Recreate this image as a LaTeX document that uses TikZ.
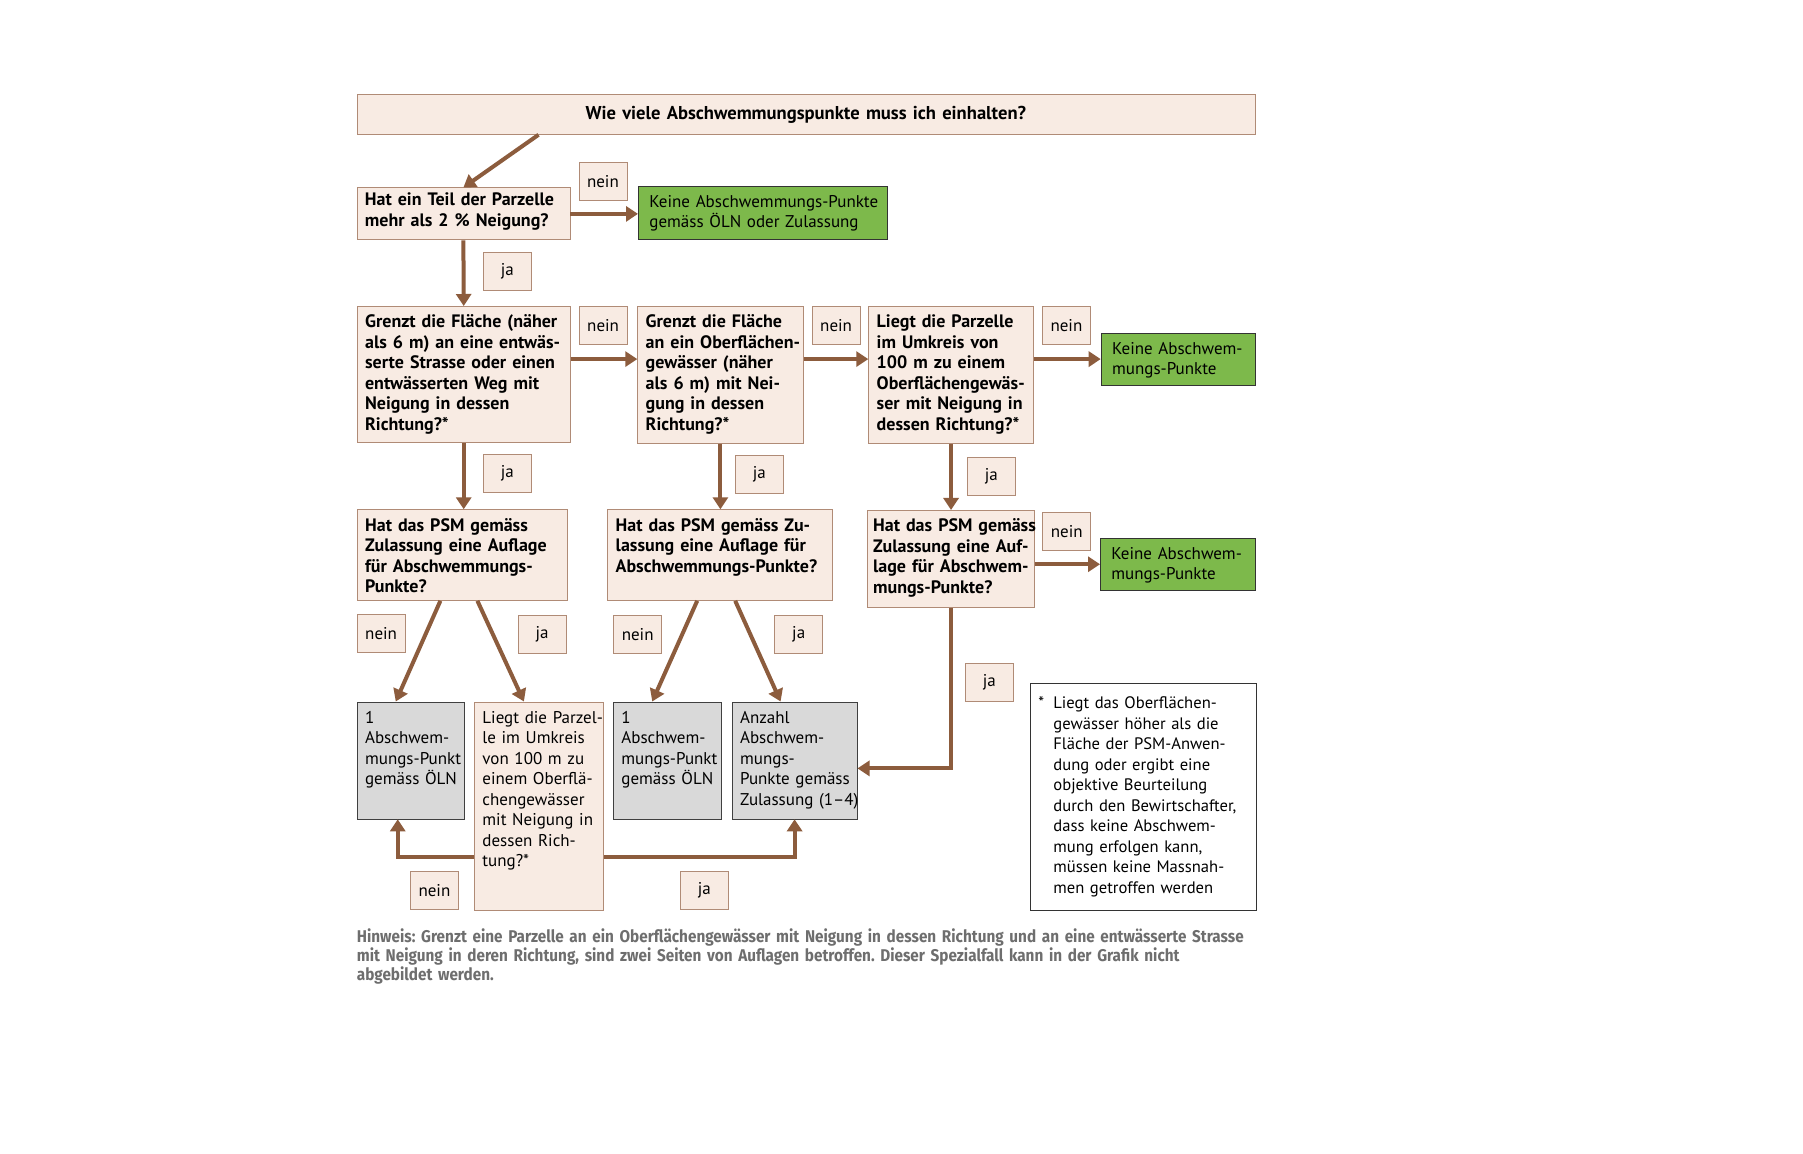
\documentclass[tikz,border=0pt]{standalone}
\usepackage{fontspec}
\setmainfont{PT Sans}
\newfontfamily\hinweisfont[FakeStretch=0.9]{Fira Sans}
\usetikzlibrary{arrows.meta}

\definecolor{boxfill}{HTML}{F8EBE3}
\definecolor{boxline}{HTML}{B08B76}
\definecolor{arrowbrown}{HTML}{8C5C3D}
\definecolor{okgreen}{HTML}{7DB94B}
\definecolor{resultgray}{HTML}{D9D9D9}
\definecolor{notegray}{HTML}{6E6E6E}

% lines that never wrap
\newcommand{\boxlines}[1]{\begin{tabular}[t]{@{}l@{}}#1\end{tabular}}

\tikzset{
  question/.style={draw=boxline, fill=boxfill, anchor=north west, align=left,
    inner xsep=4pt, inner ysep=0pt, text height=10.75pt,
    font=\fontsize{9}{10.25}\selectfont\bfseries},
  answer/.style={question, font=\fontsize{8.5}{10.25}\selectfont\mdseries},
  result/.style={draw=black!75, fill=resultgray, anchor=north west, align=left,
    inner xsep=4pt, inner ysep=0pt, text height=10.75pt, text depth=47.75pt},
  nopoints/.style={draw=black!80, fill=okgreen, anchor=north west, align=left,
    inner xsep=5.5pt, inner ysep=0pt, text height=10.5pt},
  yesno/.style={draw=boxline, fill=boxfill, anchor=north west, inner sep=0pt,
    minimum width=24pt, minimum height=19pt},
  flow/.style={draw=arrowbrown, line width=2pt, -{Triangle[length=6pt,width=7.5pt]}},
}

\begin{document}
\frenchspacing
\fontsize{8.5}{10.25}\selectfont
\begin{tikzpicture}[x=0.5pt, y=-0.5pt]
\fill[white] (0,0) rectangle (1803,1154);
\useasboundingbox (0,0) rectangle (1803,1154);

% start question
\node[draw=boxline, fill=boxfill, anchor=north west, align=center, inner xsep=4pt, inner ysep=0pt,
  text width=441pt, text height=12.8pt, text depth=7.2pt, font=\fontsize{9.3}{10.25}\selectfont\bfseries]
  (start) at (356.5,94) {Wie viele Abschwemmungspunkte muss ich einhalten?};

% first row
\node[question, text width=98.5pt, text height=9pt, text depth=17pt] (b1) at (356.5,187.5)
  {\boxlines{Hat ein Teil der Parzelle\\mehr als 2 \% Neigung?}};
\node[nopoints, text width=113.5pt, text depth=16pt] (g1) at (638,186)
  {\boxlines{Keine Abschwemmungs-Punkte\\gemäss ÖLN oder Zulassung}};

% second row
\node[question, text width=98.6pt, text depth=57.25pt] (b2) at (356.7,306)
  {\boxlines{Grenzt die Fläche (näher\\als 6 m) an eine entwäs-\\serte Strasse oder einen\\entwässerten Weg mit\\Neigung in dessen\\Richtung?*}};
\node[question, text width=74.7pt, text depth=57.75pt] (b3) at (637.3,306)
  {\boxlines{Grenzt die Fläche\\an ein Oberflächen-\\gewässer (näher\\als 6 m) mit Nei-\\gung in dessen\\Richtung?*}};
\node[question, text width=74.35pt, text depth=57.75pt] (b4) at (868.3,306)
  {\boxlines{Liegt die Parzelle\\im Umkreis von\\100 m zu einem\\Oberflächengewäs-\\ser mit Neigung in\\dessen Richtung?*}};
\node[nopoints, text width=66pt, text depth=15.5pt] (g2) at (1100.7,332.7)
  {\boxlines{Keine Abschwem-\\mungs-Punkte}};

% third row
\node[question, text width=97.3pt, text depth=34.6pt] (b5) at (356.7,509.3)
  {\boxlines{Hat das PSM gemäss\\Zulassung eine Auflage\\für Abschwemmungs-\\Punkte?}};
\node[question, text width=104.5pt, text depth=34.6pt] (b6) at (607.3,509.3)
  {\boxlines{Hat das PSM gemäss Zu-\\lassung eine Auflage für\\Abschwemmungs-Punkte?}};
\node[question, inner xsep=3pt, text width=77.65pt, text depth=37.6pt] (b7) at (866.7,510)
  {\boxlines{Hat das PSM gemäss\\Zulassung eine Auf-\\lage für Abschwem-\\mungs-Punkte?}};
\node[nopoints, text width=66.5pt, text depth=15.65pt] (g3) at (1100,537.7)
  {\boxlines{Keine Abschwem-\\mungs-Punkte}};

% results
\node[result, text width=45.65pt] (a1) at (356.7,701.5)
  {\boxlines{1\\Abschwem-\\mungs-Punkt\\gemäss ÖLN}};
\node[answer, text width=56.5pt, text depth=93.5pt] (b8) at (474,701.5)
  {\boxlines{Liegt die Parzel-\\le im Umkreis\\von 100 m zu\\einem Oberflä-\\chengewässer\\mit Neigung in\\dessen Rich-\\tung?*}};
\node[result, text width=45.85pt] (a2) at (613,701.5)
  {\boxlines{1\\Abschwem-\\mungs-Punkt\\gemäss ÖLN}};
\node[result, text width=54.5pt] (a3) at (731.7,701.5)
  {\boxlines{Anzahl\\Abschwem-\\mungs-\\Punkte gemäss\\Zulassung (1–4)}};

% footnote
\node[draw=black!80, fill=white, anchor=north west, align=left, inner xsep=4pt, inner ysep=0pt,
  text width=105pt, text height=12.5pt, text depth=100.85pt, font=\fontsize{8.3}{10.25}\selectfont]
  (fn) at (1030,683.3)
  {\makebox[7.5pt][l]{*}\boxlines{Liegt das Oberflächen-\\gewässer höher als die\\Fläche der PSM-Anwen-\\dung oder ergibt eine\\objektive Beurteilung\\durch den Bewirtschafter,\\dass keine Abschwem-\\mung erfolgen kann,\\müssen keine Massnah-\\men getroffen werden}};

% hint
\node[anchor=base west, align=left, inner sep=0pt, text width=460pt, text=notegray,
  font=\hinweisfont\bfseries\fontsize{8.5}{9.5}\selectfont] (hw) at (356.5,942)
  {\boxlines{Hinweis: Grenzt eine Parzelle an ein Oberflächengewässer mit Neigung in dessen Richtung und an eine entwässerte Strasse\\mit Neigung in deren Richtung, sind zwei Seiten von Auflagen betroffen. Dieser Spezialfall kann in der Grafik nicht\\abgebildet werden.}};

% nein / ja
\node[yesno] (n1) at (578.5,162) {nein};
\node[yesno] (j1) at (483,252) {ja};
\node[yesno] (n2) at (578.7,306) {nein};
\node[yesno] (n3) at (811.7,306) {nein};
\node[yesno] (n4) at (1042,306) {nein};
\node[yesno] (j2) at (483,454) {ja};
\node[yesno] (j3) at (735,455) {ja};
\node[yesno] (j4) at (967,456.6) {ja};
\node[yesno] (n7) at (1042.3,511.7) {nein};
\node[yesno] (n5) at (356.7,614.3) {nein};
\node[yesno] (j5) at (517.7,615) {ja};
\node[yesno] (n6) at (613.3,615) {nein};
\node[yesno] (j6) at (774.3,615) {ja};
\node[yesno] (j7) at (965,663.3) {ja};
\node[yesno] (n8) at (410,870.7) {nein};
\node[yesno] (j8) at (680,870.7) {ja};

% arrows
\draw[flow] ([xshift=91pt]start.south west) -- (b1.north);
\draw[flow] (b1.east) -- (b1.east -| g1.west);
\draw[flow] (b1.south) -- (b2.north);
\draw[flow] (b2.east |- g2.west) -- (b3.west |- g2.west);
\draw[flow] (b3.east |- g2.west) -- (b4.west |- g2.west);
\draw[flow] (b4.east |- g2.west) -- (g2.west);
\draw[flow] (b2.south) -- (b2.south |- b5.north);
\draw[flow] (b3.south) -- (b3.south |- b6.north);
\draw[flow] (b4.south) -- (b4.south |- b7.north);
\draw[flow] (b7.east |- g3.west) -- (g3.west);
\draw[flow] (b7.south) |- ([yshift=-4pt]a3.east);
\draw[flow] ([xshift=-11pt]b5.south) -- ([xshift=-7.5pt]a1.north);
\draw[flow] ([xshift=7.5pt]b5.south) -- ([xshift=-7.5pt]b8.north);
\draw[flow] ([xshift=-11.5pt]b6.south) -- ([xshift=-7.5pt]a2.north);
\draw[flow] ([xshift=7.5pt]b6.south) -- ([xshift=-7pt]a3.north);
\draw[flow] ([yshift=-25.5pt]b8.west) -| ([xshift=-6.5pt]a1.south);
\draw[flow] ([yshift=-25.5pt]b8.east) -| (a3.south);

\end{tikzpicture}
\end{document}
